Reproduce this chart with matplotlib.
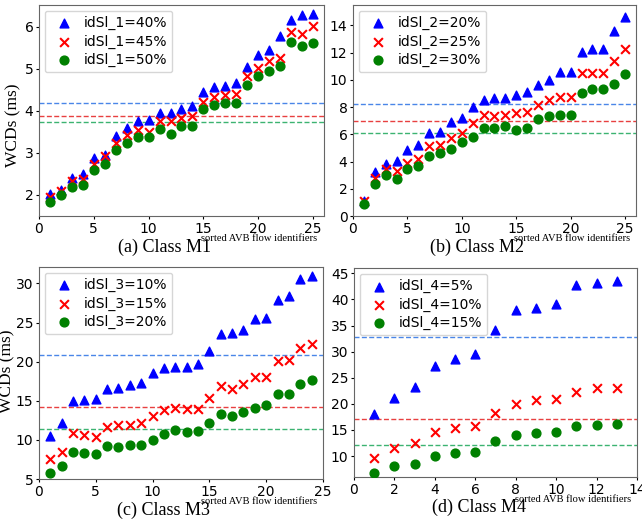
import matplotlib
matplotlib.use('Agg')
import matplotlib.pyplot as plt

# class M1
m1_x = list(range(1, 26))
m1_40 = [2.02, 2.13, 2.40, 2.50, 2.87, 2.96, 3.40, 3.59, 3.76, 3.79, 3.95, 3.94, 4.05, 4.12, 4.46, 4.58, 4.60, 4.66, 5.04, 5.34, 5.45, 5.79, 6.17, 6.28, 6.31]
m1_45 = [1.96, 2.10, 2.34, 2.37, 2.73, 2.93, 3.24, 3.43, 3.55, 3.49, 3.76, 3.76, 3.83, 3.88, 4.22, 4.32, 4.39, 4.41, 4.82, 5.03, 5.19, 5.25, 5.88, 5.84, 6.01]
m1_50 = [1.84, 2.00, 2.20, 2.24, 2.59, 2.74, 3.07, 3.24, 3.38, 3.37, 3.58, 3.44, 3.65, 3.63, 4.05, 4.15, 4.20, 4.20, 4.61, 4.84, 4.95, 5.07, 5.63, 5.54, 5.62]
m1_avg = [4.19, 3.89, 3.74]

# class M2
m2_x = list(range(1, 26))
m2_20 = [1.10, 3.20, 3.80, 4.05, 4.82, 5.20, 6.12, 6.17, 6.93, 7.20, 8.00, 8.55, 8.65, 8.70, 8.90, 9.12, 9.62, 10.02, 10.55, 10.55, 12.05, 12.28, 12.28, 13.60, 14.65]
m2_25 = [1.10, 2.80, 3.42, 3.28, 3.92, 4.18, 5.17, 5.22, 5.72, 6.10, 6.80, 7.42, 7.32, 7.45, 7.55, 7.62, 8.15, 8.52, 8.72, 8.72, 10.48, 10.50, 10.50, 11.35, 12.28]
m2_30 = [0.90, 2.38, 3.00, 2.75, 3.42, 3.68, 4.40, 4.60, 4.93, 5.45, 5.82, 6.45, 6.50, 6.62, 6.30, 6.50, 7.12, 7.33, 7.43, 7.43, 9.05, 9.32, 9.32, 9.70, 10.45]
m2_avg = [8.22, 6.95, 6.08]

# class M3
m3_x = list(range(1, 25))
m3_10 = [10.5, 12.2, 15.0, 15.1, 15.2, 16.5, 16.6, 17.0, 17.3, 18.6, 19.2, 19.3, 19.3, 19.7, 21.3, 23.6, 23.7, 24.1, 25.4, 25.6, 27.9, 28.4, 30.6, 30.9]
m3_15 = [7.6, 8.5, 10.9, 10.6, 10.4, 11.7, 11.9, 11.9, 12.1, 13.0, 13.8, 14.1, 13.9, 13.9, 15.3, 16.9, 16.5, 17.2, 18.0, 18.1, 20.1, 20.2, 21.8, 22.2]
m3_20 = [5.8, 6.6, 8.5, 8.3, 8.2, 9.2, 9.1, 9.4, 9.3, 10.0, 10.8, 11.3, 11.0, 11.2, 12.1, 13.3, 13.0, 13.6, 14.1, 14.4, 15.9, 15.9, 17.1, 17.6]
m3_avg = [20.85, 14.2, 11.4]

# class M4
m4_x = list(range(1, 14))
m4_5 = [18.0, 21.2, 23.3, 27.2, 28.5, 29.5, 34.2, 38.0, 38.3, 39.2, 42.8, 43.1, 43.5]
m4_10 = [9.7, 11.5, 12.5, 14.6, 15.3, 15.7, 18.2, 20.0, 20.7, 21.0, 22.2, 23.0, 23.1]
m4_15 = [6.8, 8.1, 8.5, 10.0, 10.5, 10.8, 12.9, 14.0, 14.5, 14.7, 15.7, 16.0, 16.2]
m4_avg = [32.8, 17.1, 12.1]

panels = [
    ('(a) Class M1', 'idSl_1', ['40%', '45%', '50%'], m1_x, [m1_40, m1_45, m1_50], m1_avg,
     (0, 26), (1.5, 6.52), range(0, 26, 5), range(2, 7)),
    ('(b) Class M2', 'idSl_2', ['20%', '25%', '30%'], m2_x, [m2_20, m2_25, m2_30], m2_avg,
     (0, 26), (0, 15.5), range(0, 26, 5), range(0, 15, 2)),
    ('(c) Class M3', 'idSl_3', ['10%', '15%', '20%'], m3_x, [m3_10, m3_15, m3_20], m3_avg,
     (0, 25), (5, 32.1), range(0, 26, 5), range(5, 31, 5)),
    ('(d) Class M4', 'idSl_4', ['5%', '10%', '15%'], m4_x, [m4_5, m4_10, m4_15], m4_avg,
     (0, 14), (6, 46), range(0, 15, 2), range(10, 46, 5)),
]

boxes = [
    [0.0607, 0.5854, 0.444, 0.405],
    [0.5498, 0.5854, 0.4408, 0.405],
    [0.0607, 0.0806, 0.4424, 0.4069],
    [0.5514, 0.0845, 0.4408, 0.401],
]
# ylabel place (axes fraction) for left column
ylab_pos = {0: (-0.09, 0.43), 2: (-0.112, 0.51)}

markers = ['^', 'x', 'o']
colors = ['blue', 'red', 'green']
line_colors = ['#4a86e8', '#e84040', '#3cb371']

fig = plt.figure(figsize=(6.42, 5.21), dpi=100)

for i, (title, name, pcts, x, series, avg, xl, yl, xt, yt) in enumerate(panels):
    ax = fig.add_axes(boxes[i])
    for ys, m, c, p in zip(series, markers, colors, pcts):
        ax.scatter(x, ys, marker=m, color=c, s=40, label=name + '=' + p, zorder=3)
    for a, lc in zip(avg, line_colors):
        ax.axhline(a, color=lc, linestyle=(0, (3.6, 1.7)), linewidth=1.0, zorder=2)
    ax.set_xlim(xl)
    ax.set_ylim(yl)
    ax.set_xticks(list(xt))
    ax.set_yticks(list(yt))
    ax.tick_params(labelsize=10, length=2, pad=2)
    for sp in ax.spines.values():
        sp.set_color('#666666')
    if i in ylab_pos:
        px, py = ylab_pos[i]
        ax.text(px, py, 'WCDs (ms)', transform=ax.transAxes, rotation=90, ha='center', va='center',
                family='Liberation Serif', fontsize=12.5)
    ax.legend(loc='upper left', fontsize=10, scatterpoints=1, handletextpad=0.4,
              borderpad=0.4, labelspacing=0.3, borderaxespad=0.4, framealpha=0.8)
    ax.text(0.44, -0.147, title, transform=ax.transAxes, ha='center', va='center',
            family='Liberation Serif', fontsize=13)
    ax.text(0.57, -0.107, 'sorted AVB flow identifiers', transform=ax.transAxes,
            ha='left', va='center', family='Liberation Serif', fontsize=7.6)

fig.savefig('out.png', dpi=100)
